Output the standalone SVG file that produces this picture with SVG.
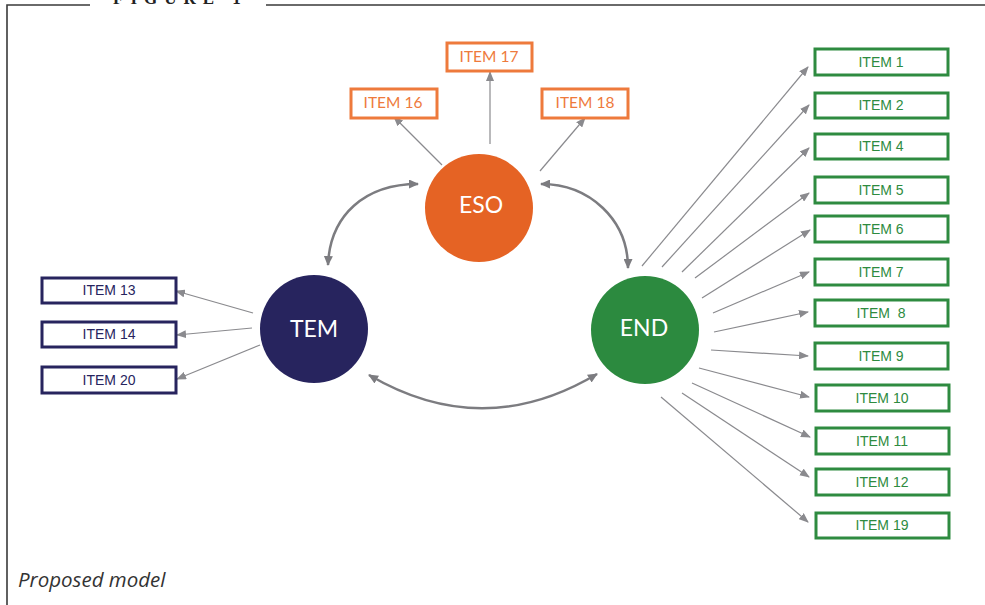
<svg xmlns="http://www.w3.org/2000/svg" width="985" height="605" viewBox="0 0 985 605">
<style>
.frame{stroke:#3a3a3a;stroke-width:1.6;fill:none}
.ob{fill:#fff;stroke:#EE7A3C;stroke-width:3}
.nb{fill:#fff;stroke:#27245E;stroke-width:3}
.gb{fill:#fff;stroke:#2E8B40;stroke-width:3}
.ot{font-family:Lato,"Liberation Sans",sans-serif;font-size:15.5px;fill:#EE7A3C;text-anchor:middle}
.nt{font-family:"Liberation Sans",Arial,sans-serif;font-size:14px;fill:#27245E;text-anchor:middle}
.gt{font-family:"Liberation Sans",Arial,sans-serif;font-size:14px;fill:#2E8B40;text-anchor:middle}
.ct{font-family:Lato,"Liberation Sans",sans-serif;font-size:23px;fill:#fff;text-anchor:middle}
.thin{stroke:#8a8a8e;stroke-width:1.2;fill:none;marker-end:url(#ah)}
.thick{stroke:#7c7c80;stroke-width:2.5;fill:none;marker-start:url(#bhs);marker-end:url(#bh)}
</style>
<defs>
<marker id="ah" markerUnits="userSpaceOnUse" markerWidth="10" markerHeight="8" refX="9" refY="4" orient="auto">
<path d="M0,0 L10,4 L0,8 Z" fill="#8a8a8e"/>
</marker>
<marker id="bh" markerUnits="userSpaceOnUse" markerWidth="10" markerHeight="9" refX="9" refY="4.5" orient="auto">
<path d="M0,0 L10,4.5 L0,9 Z" fill="#7c7c80"/>
</marker>
<marker id="bhs" markerUnits="userSpaceOnUse" markerWidth="10" markerHeight="9" refX="1" refY="4.5" orient="auto">
<path d="M10,0 L0,4.5 L10,9 Z" fill="#7c7c80"/>
</marker>
</defs>
<rect width="985" height="605" fill="#fff"/>
<g id="frame">
<path class="frame" d="M7,605 L7,5 L90,5 M266,5 L985,5"/>
<text x="113" y="4" font-family="'Liberation Serif',serif" font-weight="bold" font-size="17" letter-spacing="7" fill="#222">FIGURE 1</text>
<text x="18" y="587" font-family="'Open Sans','Liberation Sans',sans-serif" font-style="italic" font-size="20.5" fill="#333">Proposed model</text>
</g>
<g id="connectors">
<path class="thin" d="M442,165 L394,117"/>
<path class="thin" d="M490,144 L490,72"/>
<path class="thin" d="M540,171 L585,118"/>
<path class="thin" d="M253,313 L176,291"/>
<path class="thin" d="M252,328 L177,335"/>
<path class="thin" d="M260,345 L177,379"/>
<path class="thin" d="M642,266 L808,67"/>
<path class="thin" d="M662,267 L809,105"/>
<path class="thin" d="M682,272 L809,148"/>
<path class="thin" d="M695,278 L809,193"/>
<path class="thin" d="M702,298 L810,230"/>
<path class="thin" d="M713,313 L809,272"/>
<path class="thin" d="M714,332 L808,312"/>
<path class="thin" d="M711,350 L808,356"/>
<path class="thin" d="M699,368 L809,397"/>
<path class="thin" d="M692,383 L810,437"/>
<path class="thin" d="M682,393 L809,477"/>
<path class="thin" d="M661,397 L808,522"/>
<path class="thick" d="M328,265 C330,215 365,184 418,184"/>
<path class="thick" d="M541,184 C590,184 628,220 628,268"/>
<path class="thick" d="M369,375 Q483,442 597,374"/>
</g>
<g id="ESO"><circle cx="479" cy="208" r="54" fill="#E56324"/><text class="ct" x="481" y="213">ESO</text></g>
<g id="TEM"><circle cx="314" cy="329" r="54" fill="#27245E"/><text class="ct" x="314" y="337">TEM</text></g>
<g id="END"><circle cx="645" cy="330" r="54" fill="#2C8A3F"/><text class="ct" x="644" y="336">END</text></g>
<g id="item16"><rect class="ob" x="351" y="89" width="86" height="29"/><text class="ot" x="393" y="108">ITEM 16</text></g>
<g id="item17"><rect class="ob" x="447" y="43" width="85" height="28"/><text class="ot" x="489" y="62">ITEM 17</text></g>
<g id="item18"><rect class="ob" x="542" y="89" width="86" height="29"/><text class="ot" x="585" y="108">ITEM 18</text></g>
<g id="item13"><rect class="nb" x="42" y="278" width="134" height="25"/><text class="nt" x="109" y="295">ITEM 13</text></g>
<g id="item14"><rect class="nb" x="42" y="322" width="134" height="25"/><text class="nt" x="109" y="339">ITEM 14</text></g>
<g id="item20"><rect class="nb" x="42" y="367" width="134" height="26"/><text class="nt" x="109" y="385">ITEM 20</text></g>
<g id="item1"><rect class="gb" x="815" y="49" width="133" height="26"/><text class="gt" x="881" y="67">ITEM 1</text></g>
<g id="item2"><rect class="gb" x="815" y="93" width="133" height="25"/><text class="gt" x="881" y="110">ITEM 2</text></g>
<g id="item4"><rect class="gb" x="815" y="134" width="133" height="25"/><text class="gt" x="881" y="151">ITEM 4</text></g>
<g id="item5"><rect class="gb" x="815" y="177" width="133" height="26"/><text class="gt" x="881" y="195">ITEM 5</text></g>
<g id="item6"><rect class="gb" x="815" y="216" width="133" height="26"/><text class="gt" x="881" y="234">ITEM 6</text></g>
<g id="item7"><rect class="gb" x="815" y="259" width="133" height="26"/><text class="gt" x="881" y="277">ITEM 7</text></g>
<g id="item8"><rect class="gb" x="815" y="300" width="133" height="26"/><text class="gt" x="881" y="318" xml:space="preserve">ITEM  8</text></g>
<g id="item9"><rect class="gb" x="815" y="343" width="133" height="26"/><text class="gt" x="881" y="361">ITEM 9</text></g>
<g id="item10"><rect class="gb" x="816" y="385" width="133" height="26"/><text class="gt" x="882" y="403">ITEM 10</text></g>
<g id="item11"><rect class="gb" x="816" y="428" width="133" height="26"/><text class="gt" x="882" y="446">ITEM 11</text></g>
<g id="item12"><rect class="gb" x="816" y="469" width="133" height="26"/><text class="gt" x="882" y="487">ITEM 12</text></g>
<g id="item19"><rect class="gb" x="816" y="513" width="133" height="25"/><text class="gt" x="882" y="530">ITEM 19</text></g>
</svg>
